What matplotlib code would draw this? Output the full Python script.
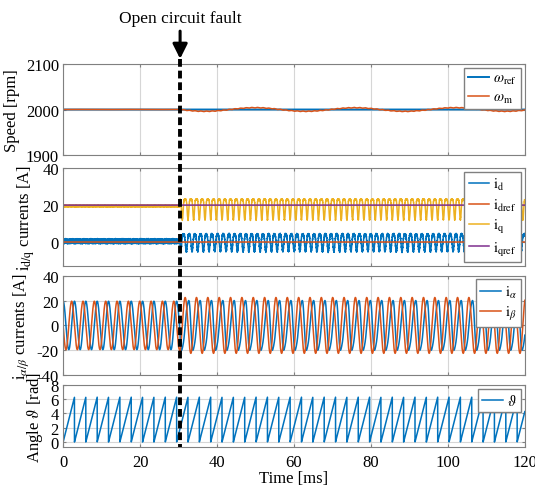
import numpy as np
import matplotlib
matplotlib.use("Agg")
import matplotlib.pyplot as plt
from matplotlib.lines import Line2D
from matplotlib.patches import FancyArrowPatch
from matplotlib.transforms import blended_transform_factory

plt.rcParams['font.family'] = ['Liberation Serif', 'DejaVu Serif']
plt.rcParams['mathtext.fontset'] = 'stix'
plt.rcParams['axes.unicode_minus'] = False

# signal settings (times in ms)
t_end = 120.0
t_fault = 30.4
T_elec = 2.95            # electrical period
speed_ref = 2000.0
speed_dev = 4.0          # speed swing after the fault [rpm]
T_speed = 26.0           # period of the speed swing
i_pre = 19.5             # alpha/beta amplitude before fault
i_beta_post = 22.5
i_alpha_post = 20.0
iq_ref = 20.0
id_ref = 0.0
iq_post_max, iq_post_min = 23.0, 12.0
id_post_max, id_post_min = 4.0, -5.0

blue, orange, yellow, purple = '#0072BD', '#D95319', '#EDB120', '#7E2F8E'

t = np.arange(0, t_end + 0.005, 0.01)
post = t >= t_fault
theta_raw = 2 * np.pi * t / T_elec
theta = np.mod(theta_raw, 2 * np.pi)

# switching ripple
rip = 0.6 * np.sin(2 * np.pi * t / 0.1) + 0.4 * np.sin(2 * np.pi * t / 0.037 + 1.0) \
    + 0.3 * np.sin(2 * np.pi * t / 0.213 + 2.0)

# speed
w_ref = np.full_like(t, speed_ref)
w_m = speed_ref + 0.2 * np.sin(2 * np.pi * t / 13.0)
w_m[post] = speed_ref - speed_dev * np.sin(2 * np.pi * (t[post] - t_fault) / T_speed) \
    + 0.6 * np.sin(2 * theta_raw[post])

# d/q currents
i_d = 0.4 + 1.2 * rip
i_q = 19.5 + 0.4 * rip
c2 = np.abs(np.cos(theta_raw[post]))
i_q[post] = iq_post_max - (iq_post_max - iq_post_min) * c2 ** 6 + 0.3 * rip[post]
s2 = np.abs(np.cos(theta_raw[post] + 0.9))
i_d[post] = id_post_max - (id_post_max - id_post_min) * s2 ** 4 + 0.6 * rip[post]
i_dref = np.full_like(t, id_ref)
i_qref = np.full_like(t, iq_ref)

# alpha/beta currents
i_alpha = i_pre * np.cos(theta_raw)
i_beta = -i_pre * np.sin(theta_raw)
th = theta_raw[post]
i_alpha[post] = i_alpha_post * np.cos(th) + 3.0 * np.sin(2 * th) - 1.5 * np.cos(3 * th)
i_beta[post] = -i_beta_post * np.sin(th)

fig = plt.figure(figsize=(5.35, 4.89), dpi=100)
left, width = 0.118, 0.863
ax1 = fig.add_axes([left, 0.681, width, 0.186])
ax2 = fig.add_axes([left, 0.454, width, 0.200], sharex=ax1)
ax3 = fig.add_axes([left, 0.231, width, 0.203], sharex=ax1)
ax4 = fig.add_axes([left, 0.0838, width, 0.127], sharex=ax1)

lw = 1.1
lab = 12
ax1.plot(t, w_ref, color=blue, lw=1.4, label=r'$\omega_{\mathrm{ref}}$')
ax1.plot(t, w_m, color=orange, lw=lw, label=r'$\omega_{\mathrm{m}}$')
ax1.set_ylim(1900, 2100)
ax1.set_yticks([1900, 2000, 2100])

ax2.plot(t, i_d, color=blue, lw=lw, label=r'$\mathrm{i}_{\mathrm{d}}$')
ax2.plot(t, i_dref, color=orange, lw=lw, label=r'$\mathrm{i}_{\mathrm{dref}}$')
ax2.plot(t, i_q, color=yellow, lw=lw, label=r'$\mathrm{i}_{\mathrm{q}}$')
ax2.plot(t, i_qref, color=purple, lw=lw, label=r'$\mathrm{i}_{\mathrm{qref}}$')
ax2.set_ylim(-13, 40)
ax2.set_yticks([0, 20, 40])

ax3.plot(t, i_alpha, color=blue, lw=lw, label=r'$\mathrm{i}_{\alpha}$')
ax3.plot(t, i_beta, color=orange, lw=lw, label=r'$\mathrm{i}_{\beta}$')
ax3.set_ylim(-40, 40)
ax3.set_yticks([-40, -20, 0, 20, 40])

ax4.plot(t, theta, color=blue, lw=lw, label=r'$\vartheta$')
ax4.set_ylim(-0.7, 8)
ax4.set_yticks([0, 2, 4, 6, 8])
ax4.set_xlabel('Time [ms]', fontsize=lab, labelpad=0)

for ax in (ax1, ax2, ax3, ax4):
    ax.set_xlim(0, t_end)
    ax.set_xticks(np.arange(0, 121, 20))
    ax.grid(True, color='#d6d6d6', lw=0.8)
    ax.tick_params(direction='in', length=2, labelsize=12, colors='#808080',
                   labelcolor='black', top=True, right=True, pad=3)
    for sp in ax.spines.values():
        sp.set_color('#808080')
    ax.legend(loc='upper right', fancybox=False, edgecolor='#808080', framealpha=1,
              fontsize=10.5, handlelength=1.4, handletextpad=0.3, borderpad=0.3,
              labelspacing=0.3, borderaxespad=0.25)
    if ax is not ax4:
        ax.tick_params(labelbottom=False)
ax4.tick_params(axis='x', pad=5)

ax1.set_ylabel('Speed [rpm]', fontsize=lab)
ax2.set_ylabel(r'$\mathrm{i}_{\mathrm{d/q}}$ currents [A]', fontsize=lab)
ax3.set_ylabel(r'$\mathrm{i}_{\alpha/\beta}$ currents [A]', fontsize=lab)
ax4.set_ylabel(r'Angle $\vartheta$ [rad]', fontsize=lab)
fig.align_ylabels([ax1, ax2, ax3, ax4])

# fault marker: arrow, label and dashed line through all panels
blend = blended_transform_factory(ax1.transData, fig.transFigure)
fig.add_artist(Line2D([t_fault, t_fault], [0.877, 0.0838], transform=blend,
                      color='black', lw=2.8, dashes=(2, 1)))
fig.add_artist(FancyArrowPatch((t_fault, 0.94), (t_fault, 0.872), transform=blend,
                               arrowstyle='-|>', mutation_scale=22, lw=2.2,
                               color='black'))
fig.text(t_fault, 0.962, 'Open circuit fault', transform=blend, ha='center',
         va='center', fontsize=12.5)

fig.savefig('out.png', dpi=100)
